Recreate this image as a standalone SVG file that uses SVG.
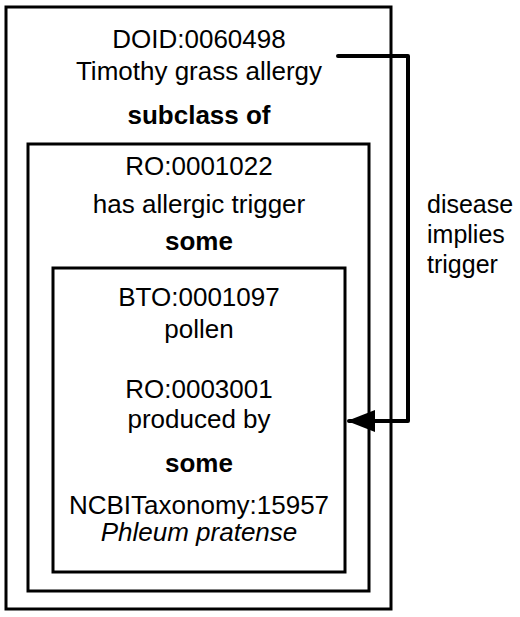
<svg xmlns="http://www.w3.org/2000/svg" width="520" height="617" viewBox="0 0 520 617">
<style>
.box{fill:none;stroke:#000;stroke-width:3}
text{font-family:"Liberation Sans",Arial,sans-serif;font-size:26px;fill:#000;text-anchor:middle}
.b{font-weight:bold}
.i{font-style:italic}
.side{text-anchor:start;font-size:25px}
.conn{fill:none;stroke:#000;stroke-width:4;stroke-linejoin:round;stroke-linecap:round}
</style>
<defs>
<marker id="ah" markerWidth="7" markerHeight="5.5" refX="6.5" refY="2.75" orient="auto" markerUnits="strokeWidth">
<path d="M0,0 L7,2.75 L0,5.5 Z" fill="#000"/>
</marker>
</defs>
<rect width="520" height="617" fill="#fff"/>
<g id="outer">
<rect class="box" x="6" y="7" width="385" height="602"/>
<text x="199" y="48">DOID:0060498</text>
<text x="199" y="80">Timothy grass allergy</text>
<text class="b" x="199" y="124">subclass of</text>
</g>
<g id="middle">
<rect class="box" x="28" y="144" width="341" height="447"/>
<text x="199" y="175">RO:0001022</text>
<text x="199" y="213">has allergic trigger</text>
<text class="b" x="199" y="250">some</text>
</g>
<g id="inner">
<rect class="box" x="53" y="268" width="292" height="304"/>
<text x="199" y="306">BTO:0001097</text>
<text x="199" y="338">pollen</text>
<text x="199" y="398">RO:0003001</text>
<text x="199" y="428">produced by</text>
<text class="b" x="199" y="472">some</text>
<text x="199" y="514">NCBITaxonomy:15957</text>
<text class="i" x="199" y="541">Phleum pratense</text>
</g>
<g id="connectors">
<path class="conn" d="M338,56 L408,56 L408,421 L349,421" marker-end="url(#ah)"/>
<text class="side" x="427" y="213">disease</text>
<text class="side" x="427" y="243">implies</text>
<text class="side" x="427" y="273">trigger</text>
</g>
</svg>
